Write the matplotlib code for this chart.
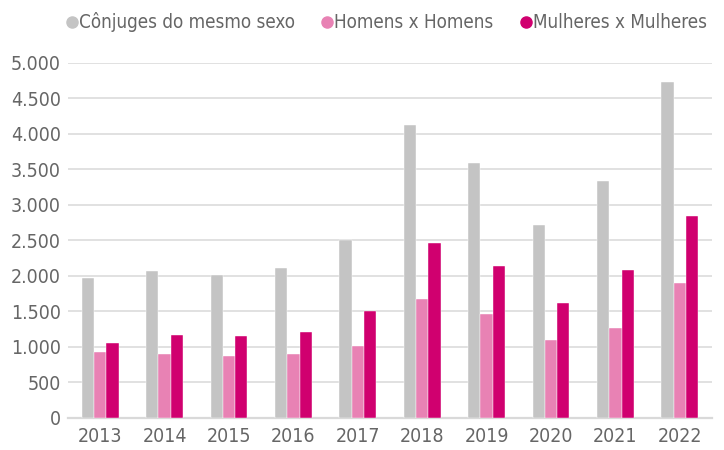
import numpy as np
import matplotlib.pyplot as plt
from matplotlib.lines import Line2D
from matplotlib.ticker import FuncFormatter

# Dados
anos = ['2013', '2014', '2015', '2016', '2017', '2018', '2019', '2020', '2021', '2022']
conjuges = [1972, 2061, 2014, 2103, 2507, 4117, 3587, 2709, 3333, 4732]
homens = [920, 901, 864, 897, 1009, 1667, 1460, 1094, 1258, 1892]
mulheres = [1052, 1160, 1155, 1207, 1502, 2460, 2131, 1610, 2080, 2845]

series = ['Cônjuges do mesmo sexo', 'Homens x Homens', 'Mulheres x Mulheres']
cores = ['#c4c4c4', '#e882b4', '#d0006f']

# fonte estreita e leve, parecida com a original
plt.rcParams['font.family'] = ['DejaVu Sans']
plt.rcParams['font.stretch'] = 'condensed'
plt.rcParams['font.weight'] = 'light'
cor_texto = '#666666'

fig = plt.figure(figsize=(7.24, 4.5), dpi=100)
ax = fig.add_axes([68 / 724, 1 - 417.7 / 450, 644 / 724, 355 / 450])

x = np.arange(len(anos))
w = 0.19
for i, (vals, cor) in enumerate(zip([conjuges, homens, mulheres], cores)):
    ax.bar(x + (i - 1) * w, vals, width=w, color=cor, edgecolor='white',
           linewidth=0.3, zorder=3)

ax.set_xlim(-0.5, len(anos) - 0.5)
ax.set_ylim(0, 5000)
ax.set_yticks(np.arange(0, 5001, 500))
ax.yaxis.set_major_formatter(FuncFormatter(lambda v, p: f'{int(v):,}'.replace(',', '.')))
ax.set_xticks(x)
ax.set_xticklabels(anos)

ax.grid(axis='y', color='#d9d9d9', linewidth=1.1, zorder=0)
for s in ['top', 'right', 'left']:
    ax.spines[s].set_visible(False)
ax.spines['bottom'].set_color('#d9d9d9')
ax.spines['bottom'].set_linewidth(1.6)
ax.tick_params(axis='both', length=0, labelsize=14, colors=cor_texto)
ax.tick_params(axis='y', pad=5)
ax.tick_params(axis='x', pad=7)

handles = [Line2D([0], [0], marker='o', linestyle='', markersize=8,
                  markerfacecolor=c, markeredgecolor=c) for c in cores]
fig.legend(handles, series, loc='center right', bbox_to_anchor=(1.0, 0.95),
           ncol=3, frameon=False, fontsize=13.5, labelcolor=cor_texto,
           handletextpad=0.0, columnspacing=1.3, handlelength=0.8)

fig.savefig('out.png', dpi=100)
